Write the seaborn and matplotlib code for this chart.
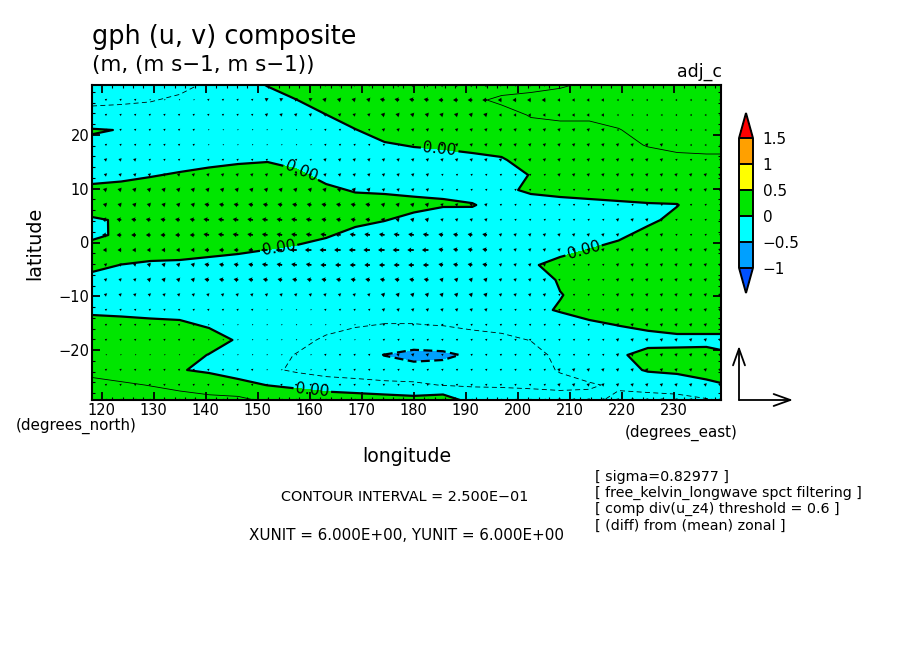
import matplotlib
matplotlib.use('Agg')
import matplotlib.pyplot as plt
from matplotlib.ticker import AutoMinorLocator
import numpy as np
import seaborn as sns

# grid of the filled field (T42 latitudes, every second longitude)
lats = [29.302, 26.511, 23.720, 20.930, 18.139, 15.348, 12.558, 9.767, 6.977, 4.186, 1.395,
        -1.395, -4.186, -6.977, -9.767, -12.558, -15.348, -18.139, -20.930, -23.720, -26.511, -29.302]
lons = [118.125, 123.75, 129.375, 135.0, 140.625, 146.25, 151.875, 157.5, 163.125, 168.75, 174.375, 180.0,
        185.625, 191.25, 196.875, 202.5, 208.125, 213.75, 219.375, 225.0, 230.625, 236.25, 239.0625]

# gph in hundredths of a metre, one list per longitude, north to south
gph_by_lon = [
    [-28, -27, -22, 2, -5, -18, -9, 6, 12, -3, -5, 10, 7, -8, -20, -5, 10, 18, 19, 20, 30, 32],
    [-32, -28, -18, -0.8, -12, -18, -6.5, 8.5, 15, 2.5, 4, 14.5, -0.5, -14, -20, -6.5, 8.5, 16, 18, 18, 27, 33],
    [-32, -26, -18, -18, -18, -17, -2, 13, 18, 18, 18, 11, -4, -16, -20, -8.5, 6.5, 15, 16, 16, 24.5, 32],
    [-30, -22, -18, -18, -18, -12, 3, 14, 18, 18, 18, 10, -5, -16, -18, -10, 5, 18, 11, 1, 21, 31],
    [-22, -18, -18, -18, -18, -7.5, 7.5, 16, 18, 18, 18, 7, -8, -16, -18, -14, -3, 12, -1, -3, 12, 32],
    [-16, -16, -16, -17, -17, -4, 11, 17, 18, 18, 17, 4, -11, -17, -18, -17, -14, -3, -8, -9, 6, 31],
    [1.5, -13.5, -16, -17, -17, -2, 13, 17, 18, 18, 14.7, -0.3, -15, -17, -18, -18, -16, -14, -18, -20, -0.5, 20],
    [15, -0.3, -15, -17, -17, -9, 6, 16, 18, 18, 10, -5, -17, -17, -18, -18, -17, -19, -26, -29, -5.5, 18],
    [18, 14.5, -0.5, -15, -17, -17, -9, 6, 18, 18, 3, -12, -17, -17, -18, -18, -19, -28, -33, -36, -11, 14],
    [18, 18, 14, -1, -16, -17, -17, -2.5, 12.5, 7, -8, -17, -17, -18, -18, -19, -24, -30, -40, -38, -15, 13],
    [18, 18, 18, 12, -3, -16, -17, -4, 11, 1, -14, -17, -17, -18, -19, -20, -25.5, -35, -50.5, -40, -19, 11],
    [18, 18, 18, 17, 2, -13, -16, -6, 7.5, -7.5, -16, -17, -17, -18, -19, -20, -25.5, -35, -58, -40, -21, 8],
    [18, 18, 18, 18, 4.5, -10.5, -16, -3, 2, -13, -16, -17, -17, -18, -19, -20, -24.5, -35, -55, -40, -26, 15],
    [17, 22, 18, 15, 8, -7, -15, -14, 2, -14, -16, -17, -17, -18, -18, -19, -22, -31, -46, -38, -27, -11],
    [18, 28, 19, 18, 12, -3, -20, -5.2, -13, -16, -17, -17, -17, -18, -18, -18, -20, -29, -36, -34, -27, -15],
    [20, 30, 26, 20, 17, 13, 2, 4, -11, -17, -17, -15, -3, -16, -18, -6, -18, -24.5, -32, -30, -28, -16],
    [23, 32, 27, 22, 18, 15, 12, 7, -8, -16, -16, -7, 8, 3, -1, 2, -12, -16, -20, -24, -29, -18],
    [28, 31, 27, 22, 18, 16, 15, 9, -6, -15, -14, 1, 12, 14, 8, 10, -5, -14, -15, -16, -27, -20],
    [30, 32, 29, 24.5, 20, 18, 17, 11, -4, -12, -5.5, 9.5, 15, 16, 16, 15.6, 0.6, -12, -3, -8, -22, -30],
    [30, 32, 31, 29, 26, 18, 17, 13, -2, -6, 9, 15, 16, 16, 16, 15, 5, -8, 7, 2, -16, -34],
    [30, 32, 31, 30, 28, 22, 19, 14, -1, 8, 15, 16, 16, 16, 16, 16, 9, -6, 6, 5, -14, -32],
    [30, 32, 32, 30, 28, 23, 19, 18, 17, 17, 17, 17, 17, 17, 17, 17, 9, -6, 7, 12, -7, -27],
    [30, 32, 32, 30, 28, 23, 19, 18, 18, 18, 18, 18, 18, 18, 18, 18, 9, -6, 3, 13, -2, -24],
]

# wind, tenths of m/s, one row per latitude, one value per 4 grid boxes
u_blocks = [
    [-2, -2, -2, -2, -3, -4, -4, -3, -2, -1, -1],
    [-2, -1, -2, -3, -4, -5, -5, -4, -3, -2, -2],
    [-2, -2, -2, -3, -3, -4, -4, -3, -3, -2, -2],
    [-2, -2, -1, -1, -2, -3, -3, -3, -3, -2, -2],
    [-2, -2, -1, -1, -2, -2, -3, -3, -3, -3, -2],
    [-3, -2, -2, -2, -3, -3, -3, -3, -3, -3, -2],
    [-3, -3, -3, -3, -3, -3, -2, -2, -3, -3, -3],
    [-4, -4, -4, -4, -4, -3, -2, -2, -2, -3, -3],
    [-4, -4, -5, -5, -5, -4, -3, -2, -2, -2, -2],
    [-5, -5, -6, -6, -5, -4, -3, -2, -2, -3, -2],
    [-5, -5, -6, -6, -6, -6, -5, -3, -3, -3, -2],
    [-4, -4, -5, -7, -7, -7, -5, -3, -3, -3, -3],
    [-3, -4, -5, -6, -6, -6, -5, -3, -2, -3, -3],
    [-3, -4, -5, -5, -5, -5, -4, -3, -2, -3, -3],
    [-3, -3, -3, -3, -3, -4, -4, -3, -2, -3, -3],
    [-2, -2, -2, -1, -2, -3, -3, -2, -2, -3, -3],
    [-2, -2, -1, -1, -1, -2, -2, -2, -2, -3, -3],
    [-2, -2, -1, -1, -1, -2, -2, -2, -2, -3, -3],
    [-1, -1, -1, -1, -2, -3, -2, -2, -2, -3, -3],
    [-2, -2, -2, -1, -2, -2, -2, -2, -3, -3, -3],
    [-2, -2, -2, -2, -2, -2, -2, -2, -3, -3, -3],
    [-2, -2, -2, -2, -2, -2, -2, -2, -3, -3, -3],
]
v_blocks = [
    [1, 1, 1, 1, 1, 1, 1, 1, 0, 0, 0],
    [1, 1, 1, 2, 1, 1, 0, 0, 0, 0, 0],
    [1, 1, 1, 1, 1, 1, 1, 0, 0, 0, 0],
    [1, 1, 1, 1, 1, 1, 1, 1, 1, 0, 0],
    [1, 1, 1, 1, 1, 1, 1, 1, 1, 1, 0],
    [1, 1, 1, 1, 1, 1, 1, 1, 1, 1, 1],
    [1, 1, 1, 1, 1, 1, 1, 1, 1, 1, 1],
    [1, 1, 1, 1, 1, 1, 1, 1, 1, 1, 1],
    [1, 1, 1, 1, 1, 1, 1, 1, 1, 1, 1],
    [1, 1, 1, 1, 1, 1, 1, 1, 1, 1, 1],
    [0, 0, 1, 1, 1, 1, 1, 1, 1, 1, 1],
    [0, 0, 0, 0, 0, 0, 1, 1, 1, 1, 1],
    [1, 1, 1, 1, 0, 0, 1, 1, 1, 1, 1],
    [1, 1, 1, 1, 1, 1, 1, 1, 1, 1, 1],
    [1, 1, 1, 1, 1, 1, 1, 1, 1, 1, 1],
    [1, 1, 1, 1, 1, 1, 1, 1, 1, 1, 1],
    [1, 1, 1, 1, 1, 1, 1, 1, 1, 1, 1],
    [1, 1, 1, 1, 1, 1, 1, 1, 1, 1, 1],
    [1, 1, 1, 1, 1, 1, 1, 1, 1, 1, 1],
    [1, 1, 1, 1, 1, 1, 1, 1, 1, 1, 1],
    [1, 1, 1, 1, 1, 1, 1, 1, 1, 1, 1],
    [1, 1, 1, 1, 1, 1, 1, 1, 1, 1, 1],
]

shade_levels = [-1, -0.5, 0, 0.5, 1, 1.5]
shade_labels = ['\u22121', '\u22120.5', '0', '0.5', '1', '1.5']
shade_colors = ['#0050ff', '#00a0ff', '#00ffff', '#00e600', '#ffff00', '#ffa000', '#ff0000']
lon_ticks = [120, 130, 140, 150, 160, 170, 180, 190, 200, 210, 220, 230]
lat_ticks = [-20, -10, 0, 10, 20]
lat_tick_labels = ['\u221220', '\u221210', '0', '10', '20']
note_lines = ['[ sigma=0.82977 ]', '[ free_kelvin_longwave spct filtering ]',
              '[ comp div(u_z4) threshold = 0.6 ]', '[ (diff) from (mean) zonal ]']

W, H = 904, 654
sns.set_theme(style='ticks')
plt.rcParams['font.family'] = ['DejaVu Sans']

fig = plt.figure(figsize=(W / 100, H / 100), dpi=100, facecolor='white')


def pixtext(x, y, s, **kw):
    kw.setdefault('va', 'center')
    kw.setdefault('color', 'black')
    fig.text(x / W, 1 - y / H, s, **kw)


ax = fig.add_axes([92 / W, 1 - 400 / H, 629 / W, 315 / H])
ax.set_axisbelow(False)

gph = np.array(gph_by_lon).T / 100.0
cf = ax.contourf(lons, lats, gph, levels=shade_levels, colors=shade_colors, extend='both')

# contour lines, interval 0.25, zero and every other one drawn thick
ax.contour(lons, lats, gph, levels=[-0.5], colors='black', linewidths=1.6, linestyles=[(0, (4, 2))])
ax.contour(lons, lats, gph, levels=[-0.25], colors='black', linewidths=0.6, linestyles=[(0, (6, 4))])
ax.contour(lons, lats, gph, levels=[0.25], colors='black', linewidths=0.6, linestyles='solid')
zero = ax.contour(lons, lats, gph, levels=[0], colors='black', linewidths=1.6, linestyles='solid')
ax.clabel(zero, fmt='%.2f', fontsize=11, inline=True, inline_spacing=2,
          manual=[(158.5, 13.5), (185.0, 17.6), (154.0, -1.0), (212.5, -1.0), (160.5, -27.3)])

# vectors on the full grid
wind_lons = 118.125 + 2.8125 * np.arange(44)
u = np.repeat(np.array(u_blocks), 4, axis=1) / 10.0
v = np.repeat(np.array(v_blocks), 4, axis=1) / 10.0
ax.quiver(wind_lons, lats, u, v, units='dots', scale_units='dots', scale=1 / 9.33, width=1.8,
          headwidth=2.8, headlength=2.2, headaxislength=2, minlength=0.5, minshaft=1, color='black', zorder=4)

ax.set_xlim(118.125, 239.0625)
ax.set_ylim(-29.302, 29.302)
ax.set_xticks(lon_ticks)
ax.set_yticks(lat_ticks)
ax.set_yticklabels(lat_tick_labels)
ax.xaxis.set_minor_locator(AutoMinorLocator(5))
ax.yaxis.set_minor_locator(AutoMinorLocator(5))
ax.tick_params(which='major', direction='in', top=True, right=True, length=5.5, width=1.3,
               labelsize=10.5, pad=2, color='black', labelcolor='black')
ax.tick_params(which='minor', direction='in', top=True, right=True, length=2.2, width=0.8, color='black')
for spine in ax.spines.values():
    spine.set_linewidth(1.5)
    spine.set_color('black')
ax.grid(False)

# colour bar with triangle ends
cax = fig.add_axes([739 / W, 1 - 293 / H, 14 / W, 180 / H])
cb = fig.colorbar(cf, cax=cax, ticks=shade_levels, extend='both', extendfrac=0.194, drawedges=True)
cb.ax.set_yticklabels(shade_labels)
cb.ax.tick_params(length=0, labelsize=11, pad=7, labelcolor='black')
cb.outline.set_linewidth(1.4)
cb.outline.set_edgecolor('black')
cb.dividers.set_linewidth(1.4)
cb.dividers.set_color('black')

# reference vector
for tip in [(793, H - 400), (739, H - 346)]:
    ax.annotate('', xy=tip, xytext=(739, H - 400), xycoords='figure pixels', textcoords='figure pixels',
                annotation_clip=False,
                arrowprops=dict(arrowstyle='->,head_length=1.2,head_width=0.43', mutation_scale=10,
                                lw=1.3, color='black', shrinkA=0, shrinkB=0))

pixtext(92, 37, 'gph (u, v) composite', fontsize=18.4)
pixtext(92, 65, '(m, (m s\u22121, m s\u22121))', fontsize=15.4)
pixtext(722, 72, 'adj_c', fontsize=12.5, ha='right')
pixtext(35, 243, 'latitude', fontsize=13.8, rotation=90, ha='center')
pixtext(407, 457, 'longitude', fontsize=13.6, ha='center')
pixtext(16, 426, '(degrees_north)', fontsize=10.9)
pixtext(625, 433, '(degrees_east)', fontsize=10.9)
pixtext(405, 497, 'CONTOUR INTERVAL = 2.500E\u221201', fontsize=10.4, ha='center')
pixtext(407, 536, 'XUNIT = 6.000E+00, YUNIT = 6.000E+00', fontsize=10.9, ha='center')
for note_y, note in zip([477, 493, 509, 526], note_lines):
    pixtext(595, note_y, note, fontsize=10.3)

fig.savefig('out.png', dpi=100, facecolor='white')
